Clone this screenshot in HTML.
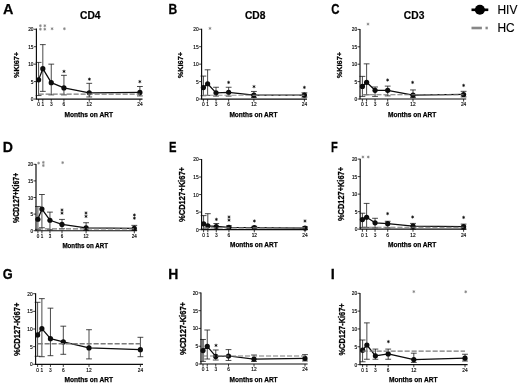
<!DOCTYPE html>
<html><head><meta charset="utf-8"><title>Figure</title>
<style>
html,body{margin:0;padding:0;background:#fff;}
body{width:520px;height:386px;overflow:hidden;}
svg{display:block;font-family:"Liberation Sans", sans-serif;}
</style></head>
<body>
<svg width="520" height="386" viewBox="0 0 520 386">
<defs><filter id="soft" x="0" y="0" width="520" height="386" filterUnits="userSpaceOnUse"><feGaussianBlur stdDeviation="0.38"/></filter></defs>
<rect width="520" height="386" fill="#fff"/>
<g filter="url(#soft)">
<rect width="520" height="386" fill="#fff"/>
<g id="pA">
<path d="M38.60 95.56V62.41M35.70 62.41H41.50M35.70 95.56H41.50" stroke="#1c1c1c" stroke-width="0.8" fill="none"/>
<path d="M42.82 91.37V44.61M39.92 44.61H45.72M39.92 91.37H45.72" stroke="#1c1c1c" stroke-width="0.8" fill="none"/>
<path d="M51.26 94.86V64.15M48.36 64.15H54.16M48.36 94.86H54.16" stroke="#1c1c1c" stroke-width="0.8" fill="none"/>
<path d="M63.93 94.86V75.32M61.03 75.32H66.83M61.03 94.86H66.83" stroke="#1c1c1c" stroke-width="0.8" fill="none"/>
<path d="M89.25 96.96V83.34M86.35 83.34H92.15M86.35 96.96H92.15" stroke="#1c1c1c" stroke-width="0.8" fill="none"/>
<path d="M139.90 95.91V86.49M137.00 86.49H142.80M137.00 95.91H142.80" stroke="#1c1c1c" stroke-width="0.8" fill="none"/>
<polyline points="38.60,79.85 42.82,68.69 51.26,82.65 63.93,87.88 89.25,92.77 139.90,92.42" fill="none" stroke="#0a0a0a" stroke-width="1.25" stroke-linejoin="round"/>
<circle cx="38.60" cy="79.85" r="2.6" fill="#0a0a0a"/>
<circle cx="42.82" cy="68.69" r="2.6" fill="#0a0a0a"/>
<circle cx="51.26" cy="82.65" r="2.6" fill="#0a0a0a"/>
<circle cx="63.93" cy="87.88" r="2.6" fill="#0a0a0a"/>
<circle cx="89.25" cy="92.77" r="2.6" fill="#0a0a0a"/>
<circle cx="139.90" cy="92.42" r="2.6" fill="#0a0a0a"/>
<line x1="38.60" y1="94.09" x2="139.90" y2="94.09" stroke="#7a7a7a" stroke-width="1.1" stroke-dasharray="5.1 1.9"/>
<path d="M36.40 28.45V99.05H142.50" stroke="#0a0a0a" stroke-width="1.15" fill="none" stroke-linejoin="miter"/>
<line x1="33.90" y1="99.05" x2="36.40" y2="99.05" stroke="#0a0a0a" stroke-width="0.8"/>
<text x="33.50" y="101.05" font-size="4.8" text-anchor="end" fill="#0a0a0a" stroke="#0a0a0a" stroke-width="0.15">0</text>
<line x1="33.90" y1="81.60" x2="36.40" y2="81.60" stroke="#0a0a0a" stroke-width="0.8"/>
<text x="33.50" y="83.60" font-size="4.8" text-anchor="end" fill="#0a0a0a" stroke="#0a0a0a" stroke-width="0.15">5</text>
<line x1="33.90" y1="64.15" x2="36.40" y2="64.15" stroke="#0a0a0a" stroke-width="0.8"/>
<text x="33.50" y="66.15" font-size="4.8" text-anchor="end" fill="#0a0a0a" stroke="#0a0a0a" stroke-width="0.15">10</text>
<line x1="33.90" y1="46.70" x2="36.40" y2="46.70" stroke="#0a0a0a" stroke-width="0.8"/>
<text x="33.50" y="48.70" font-size="4.8" text-anchor="end" fill="#0a0a0a" stroke="#0a0a0a" stroke-width="0.15">15</text>
<line x1="33.90" y1="29.25" x2="36.40" y2="29.25" stroke="#0a0a0a" stroke-width="0.8"/>
<text x="33.50" y="31.25" font-size="4.8" text-anchor="end" fill="#0a0a0a" stroke="#0a0a0a" stroke-width="0.15">20</text>
<line x1="38.60" y1="99.05" x2="38.60" y2="101.65" stroke="#0a0a0a" stroke-width="0.8"/>
<text x="38.60" y="106.40" font-size="4.8" text-anchor="middle" fill="#0a0a0a" stroke="#0a0a0a" stroke-width="0.15">0</text>
<line x1="42.82" y1="99.05" x2="42.82" y2="101.65" stroke="#0a0a0a" stroke-width="0.8"/>
<text x="42.82" y="106.40" font-size="4.8" text-anchor="middle" fill="#0a0a0a" stroke="#0a0a0a" stroke-width="0.15">1</text>
<line x1="51.26" y1="99.05" x2="51.26" y2="101.65" stroke="#0a0a0a" stroke-width="0.8"/>
<text x="51.26" y="106.40" font-size="4.8" text-anchor="middle" fill="#0a0a0a" stroke="#0a0a0a" stroke-width="0.15">3</text>
<line x1="63.93" y1="99.05" x2="63.93" y2="101.65" stroke="#0a0a0a" stroke-width="0.8"/>
<text x="63.93" y="106.40" font-size="4.8" text-anchor="middle" fill="#0a0a0a" stroke="#0a0a0a" stroke-width="0.15">6</text>
<line x1="89.25" y1="99.05" x2="89.25" y2="101.65" stroke="#0a0a0a" stroke-width="0.8"/>
<text x="89.25" y="106.40" font-size="4.8" text-anchor="middle" fill="#0a0a0a" stroke="#0a0a0a" stroke-width="0.15">12</text>
<line x1="139.90" y1="99.05" x2="139.90" y2="101.65" stroke="#0a0a0a" stroke-width="0.8"/>
<text x="139.90" y="106.40" font-size="4.8" text-anchor="middle" fill="#0a0a0a" stroke="#0a0a0a" stroke-width="0.15">24</text>
<g stroke="#111" stroke-width="0.60" stroke-linecap="round" fill="#111"><circle cx="64.00" cy="71.40" r="0.85" stroke="none"/><line x1="64.00" y1="70.10" x2="64.00" y2="72.70"/><line x1="62.87" y1="70.75" x2="65.13" y2="72.05"/><line x1="62.87" y1="72.05" x2="65.13" y2="70.75"/></g>
<g stroke="#111" stroke-width="0.60" stroke-linecap="round" fill="#111"><circle cx="89.40" cy="79.20" r="0.85" stroke="none"/><line x1="89.40" y1="77.90" x2="89.40" y2="80.50"/><line x1="88.27" y1="78.55" x2="90.53" y2="79.85"/><line x1="88.27" y1="79.85" x2="90.53" y2="78.55"/></g>
<g stroke="#111" stroke-width="0.60" stroke-linecap="round" fill="#111"><circle cx="139.80" cy="81.60" r="0.85" stroke="none"/><line x1="139.80" y1="80.30" x2="139.80" y2="82.90"/><line x1="138.67" y1="80.95" x2="140.93" y2="82.25"/><line x1="138.67" y1="82.25" x2="140.93" y2="80.95"/></g>
<g stroke="#888888" stroke-width="0.55" stroke-linecap="round" fill="#888888"><circle cx="40.40" cy="25.70" r="0.97" stroke="none"/><line x1="40.40" y1="24.50" x2="40.40" y2="26.90"/><line x1="39.36" y1="25.10" x2="41.44" y2="26.30"/><line x1="39.36" y1="26.30" x2="41.44" y2="25.10"/></g>
<g stroke="#888888" stroke-width="0.55" stroke-linecap="round" fill="#888888"><circle cx="44.80" cy="25.70" r="0.97" stroke="none"/><line x1="44.80" y1="24.50" x2="44.80" y2="26.90"/><line x1="43.76" y1="25.10" x2="45.84" y2="26.30"/><line x1="43.76" y1="26.30" x2="45.84" y2="25.10"/></g>
<g stroke="#888888" stroke-width="0.55" stroke-linecap="round" fill="#888888"><circle cx="40.40" cy="29.20" r="0.97" stroke="none"/><line x1="40.40" y1="28.00" x2="40.40" y2="30.40"/><line x1="39.36" y1="28.60" x2="41.44" y2="29.80"/><line x1="39.36" y1="29.80" x2="41.44" y2="28.60"/></g>
<g stroke="#888888" stroke-width="0.55" stroke-linecap="round" fill="#888888"><circle cx="44.80" cy="29.20" r="0.97" stroke="none"/><line x1="44.80" y1="28.00" x2="44.80" y2="30.40"/><line x1="43.76" y1="28.60" x2="45.84" y2="29.80"/><line x1="43.76" y1="29.80" x2="45.84" y2="28.60"/></g>
<g stroke="#888888" stroke-width="0.55" stroke-linecap="round" fill="#888888"><circle cx="52.10" cy="28.70" r="0.97" stroke="none"/><line x1="52.10" y1="27.50" x2="52.10" y2="29.90"/><line x1="51.06" y1="28.10" x2="53.14" y2="29.30"/><line x1="51.06" y1="29.30" x2="53.14" y2="28.10"/></g>
<g stroke="#888888" stroke-width="0.55" stroke-linecap="round" fill="#888888"><circle cx="64.40" cy="28.70" r="0.97" stroke="none"/><line x1="64.40" y1="27.50" x2="64.40" y2="29.90"/><line x1="63.36" y1="28.10" x2="65.44" y2="29.30"/><line x1="63.36" y1="29.30" x2="65.44" y2="28.10"/></g>
<text transform="translate(3.00,14.10) scale(1.0,1.0)" font-size="14.4" font-weight="bold" fill="#000" stroke="#000" stroke-width="0.25">A</text>
<text x="90.30" y="19.0" font-size="10.1" font-weight="bold" text-anchor="middle" textLength="20.5" lengthAdjust="spacingAndGlyphs" fill="#000" stroke="#000" stroke-width="0.2">CD4</text>
<text transform="translate(18.70,65.00) rotate(-90)" font-size="7.8" font-weight="bold" text-anchor="middle" textLength="26.2" lengthAdjust="spacingAndGlyphs" fill="#000" stroke="#000" stroke-width="0.28">%Ki67+</text>
<text x="88.70" y="116.70" font-size="6.9" font-weight="bold" text-anchor="middle" textLength="48.6" lengthAdjust="spacingAndGlyphs" fill="#000" stroke="#000" stroke-width="0.25">Months on ART</text>
</g>
<g id="pB">
<path d="M203.40 95.73V76.09M200.50 76.09H206.30M200.50 95.73H206.30" stroke="#1c1c1c" stroke-width="0.8" fill="none"/>
<path d="M207.61 95.39V69.80M204.71 69.80H210.51M204.71 95.39H210.51" stroke="#1c1c1c" stroke-width="0.8" fill="none"/>
<path d="M216.03 96.08V87.25M213.12 87.25H218.93M213.12 96.08H218.93" stroke="#1c1c1c" stroke-width="0.8" fill="none"/>
<path d="M228.65 96.08V87.25M225.75 87.25H231.55M225.75 96.08H231.55" stroke="#1c1c1c" stroke-width="0.8" fill="none"/>
<path d="M253.90 97.48V91.44M251.00 91.44H256.80M251.00 97.48H256.80" stroke="#1c1c1c" stroke-width="0.8" fill="none"/>
<path d="M304.40 97.13V92.84M301.50 92.84H307.30M301.50 97.13H307.30" stroke="#1c1c1c" stroke-width="0.8" fill="none"/>
<polyline points="203.40,87.60 207.61,83.76 216.03,92.84 228.65,92.31 253.90,95.21 304.40,95.04" fill="none" stroke="#0a0a0a" stroke-width="1.25" stroke-linejoin="round"/>
<circle cx="203.40" cy="87.60" r="2.6" fill="#0a0a0a"/>
<circle cx="207.61" cy="83.76" r="2.6" fill="#0a0a0a"/>
<circle cx="216.03" cy="92.84" r="2.6" fill="#0a0a0a"/>
<circle cx="228.65" cy="92.31" r="2.6" fill="#0a0a0a"/>
<circle cx="253.90" cy="95.21" r="2.6" fill="#0a0a0a"/>
<circle cx="304.40" cy="95.04" r="2.6" fill="#0a0a0a"/>
<line x1="203.40" y1="95.21" x2="304.40" y2="95.21" stroke="#999" stroke-width="1.1" stroke-dasharray="5.1 1.9"/>
<path d="M201.60 28.85V99.05H307.00" stroke="#0a0a0a" stroke-width="1.15" fill="none" stroke-linejoin="miter"/>
<line x1="199.10" y1="99.05" x2="201.60" y2="99.05" stroke="#0a0a0a" stroke-width="0.8"/>
<text x="198.70" y="101.05" font-size="4.8" text-anchor="end" fill="#0a0a0a" stroke="#0a0a0a" stroke-width="0.15">0</text>
<line x1="199.10" y1="81.60" x2="201.60" y2="81.60" stroke="#0a0a0a" stroke-width="0.8"/>
<text x="198.70" y="83.60" font-size="4.8" text-anchor="end" fill="#0a0a0a" stroke="#0a0a0a" stroke-width="0.15">5</text>
<line x1="199.10" y1="64.15" x2="201.60" y2="64.15" stroke="#0a0a0a" stroke-width="0.8"/>
<text x="198.70" y="66.15" font-size="4.8" text-anchor="end" fill="#0a0a0a" stroke="#0a0a0a" stroke-width="0.15">10</text>
<line x1="199.10" y1="46.70" x2="201.60" y2="46.70" stroke="#0a0a0a" stroke-width="0.8"/>
<text x="198.70" y="48.70" font-size="4.8" text-anchor="end" fill="#0a0a0a" stroke="#0a0a0a" stroke-width="0.15">15</text>
<line x1="199.10" y1="29.25" x2="201.60" y2="29.25" stroke="#0a0a0a" stroke-width="0.8"/>
<text x="198.70" y="31.25" font-size="4.8" text-anchor="end" fill="#0a0a0a" stroke="#0a0a0a" stroke-width="0.15">20</text>
<line x1="203.40" y1="99.05" x2="203.40" y2="101.65" stroke="#0a0a0a" stroke-width="0.8"/>
<text x="203.40" y="106.40" font-size="4.8" text-anchor="middle" fill="#0a0a0a" stroke="#0a0a0a" stroke-width="0.15">0</text>
<line x1="207.61" y1="99.05" x2="207.61" y2="101.65" stroke="#0a0a0a" stroke-width="0.8"/>
<text x="207.61" y="106.40" font-size="4.8" text-anchor="middle" fill="#0a0a0a" stroke="#0a0a0a" stroke-width="0.15">1</text>
<line x1="216.03" y1="99.05" x2="216.03" y2="101.65" stroke="#0a0a0a" stroke-width="0.8"/>
<text x="216.03" y="106.40" font-size="4.8" text-anchor="middle" fill="#0a0a0a" stroke="#0a0a0a" stroke-width="0.15">3</text>
<line x1="228.65" y1="99.05" x2="228.65" y2="101.65" stroke="#0a0a0a" stroke-width="0.8"/>
<text x="228.65" y="106.40" font-size="4.8" text-anchor="middle" fill="#0a0a0a" stroke="#0a0a0a" stroke-width="0.15">6</text>
<line x1="253.90" y1="99.05" x2="253.90" y2="101.65" stroke="#0a0a0a" stroke-width="0.8"/>
<text x="253.90" y="106.40" font-size="4.8" text-anchor="middle" fill="#0a0a0a" stroke="#0a0a0a" stroke-width="0.15">12</text>
<line x1="304.40" y1="99.05" x2="304.40" y2="101.65" stroke="#0a0a0a" stroke-width="0.8"/>
<text x="304.40" y="106.40" font-size="4.8" text-anchor="middle" fill="#0a0a0a" stroke="#0a0a0a" stroke-width="0.15">24</text>
<g stroke="#111" stroke-width="0.60" stroke-linecap="round" fill="#111"><circle cx="228.60" cy="82.40" r="0.85" stroke="none"/><line x1="228.60" y1="81.10" x2="228.60" y2="83.70"/><line x1="227.47" y1="81.75" x2="229.73" y2="83.05"/><line x1="227.47" y1="83.05" x2="229.73" y2="81.75"/></g>
<g stroke="#111" stroke-width="0.60" stroke-linecap="round" fill="#111"><circle cx="254.00" cy="86.60" r="0.85" stroke="none"/><line x1="254.00" y1="85.30" x2="254.00" y2="87.90"/><line x1="252.87" y1="85.95" x2="255.13" y2="87.25"/><line x1="252.87" y1="87.25" x2="255.13" y2="85.95"/></g>
<g stroke="#111" stroke-width="0.60" stroke-linecap="round" fill="#111"><circle cx="304.40" cy="87.40" r="0.85" stroke="none"/><line x1="304.40" y1="86.10" x2="304.40" y2="88.70"/><line x1="303.27" y1="86.75" x2="305.53" y2="88.05"/><line x1="303.27" y1="88.05" x2="305.53" y2="86.75"/></g>
<g stroke="#888888" stroke-width="0.55" stroke-linecap="round" fill="#888888"><circle cx="210.00" cy="28.40" r="0.97" stroke="none"/><line x1="210.00" y1="27.20" x2="210.00" y2="29.60"/><line x1="208.96" y1="27.80" x2="211.04" y2="29.00"/><line x1="208.96" y1="29.00" x2="211.04" y2="27.80"/></g>
<text transform="translate(168.60,14.10) scale(0.84,1.0)" font-size="14.4" font-weight="bold" fill="#000" stroke="#000" stroke-width="0.25">B</text>
<text x="255.20" y="19.0" font-size="10.1" font-weight="bold" text-anchor="middle" textLength="20.5" lengthAdjust="spacingAndGlyphs" fill="#000" stroke="#000" stroke-width="0.2">CD8</text>
<text transform="translate(183.20,65.10) rotate(-90)" font-size="7.8" font-weight="bold" text-anchor="middle" textLength="26.2" lengthAdjust="spacingAndGlyphs" fill="#000" stroke="#000" stroke-width="0.28">%Ki67+</text>
<text x="253.40" y="116.60" font-size="6.9" font-weight="bold" text-anchor="middle" textLength="48.0" lengthAdjust="spacingAndGlyphs" fill="#000" stroke="#000" stroke-width="0.25">Months on ART</text>
</g>
<g id="pC">
<path d="M362.40 96.39V76.38M359.50 76.38H365.30M359.50 96.39H365.30" stroke="#1c1c1c" stroke-width="0.8" fill="none"/>
<path d="M366.62 94.82V63.85M363.72 63.85H369.52M363.72 94.82H369.52" stroke="#1c1c1c" stroke-width="0.8" fill="none"/>
<path d="M375.05 96.39V86.99M372.15 86.99H377.95M372.15 96.39H377.95" stroke="#1c1c1c" stroke-width="0.8" fill="none"/>
<path d="M387.70 95.87V86.12M384.80 86.12H390.60M384.80 95.87H390.60" stroke="#1c1c1c" stroke-width="0.8" fill="none"/>
<path d="M413.00 97.61V89.95M410.10 89.95H415.90M410.10 97.61H415.90" stroke="#1c1c1c" stroke-width="0.8" fill="none"/>
<path d="M463.60 96.91V91.34M460.70 91.34H466.50M460.70 96.91H466.50" stroke="#1c1c1c" stroke-width="0.8" fill="none"/>
<polyline points="362.40,86.47 366.62,82.30 375.05,90.30 387.70,90.30 413.00,95.17 463.60,94.48" fill="none" stroke="#0a0a0a" stroke-width="1.25" stroke-linejoin="round"/>
<circle cx="362.40" cy="86.47" r="2.6" fill="#0a0a0a"/>
<circle cx="366.62" cy="82.30" r="2.6" fill="#0a0a0a"/>
<circle cx="375.05" cy="90.30" r="2.6" fill="#0a0a0a"/>
<circle cx="387.70" cy="90.30" r="2.6" fill="#0a0a0a"/>
<circle cx="413.00" cy="95.17" r="2.6" fill="#0a0a0a"/>
<circle cx="463.60" cy="94.48" r="2.6" fill="#0a0a0a"/>
<line x1="362.40" y1="94.82" x2="463.60" y2="94.82" stroke="#7a7a7a" stroke-width="1.1" stroke-dasharray="5.1 1.9"/>
<path d="M360.00 29.00V99.00H466.20" stroke="#0a0a0a" stroke-width="1.15" fill="none" stroke-linejoin="miter"/>
<line x1="357.50" y1="99.00" x2="360.00" y2="99.00" stroke="#0a0a0a" stroke-width="0.8"/>
<text x="357.10" y="101.00" font-size="4.8" text-anchor="end" fill="#0a0a0a" stroke="#0a0a0a" stroke-width="0.15">0</text>
<line x1="357.50" y1="81.60" x2="360.00" y2="81.60" stroke="#0a0a0a" stroke-width="0.8"/>
<text x="357.10" y="83.60" font-size="4.8" text-anchor="end" fill="#0a0a0a" stroke="#0a0a0a" stroke-width="0.15">5</text>
<line x1="357.50" y1="64.20" x2="360.00" y2="64.20" stroke="#0a0a0a" stroke-width="0.8"/>
<text x="357.10" y="66.20" font-size="4.8" text-anchor="end" fill="#0a0a0a" stroke="#0a0a0a" stroke-width="0.15">10</text>
<line x1="357.50" y1="46.80" x2="360.00" y2="46.80" stroke="#0a0a0a" stroke-width="0.8"/>
<text x="357.10" y="48.80" font-size="4.8" text-anchor="end" fill="#0a0a0a" stroke="#0a0a0a" stroke-width="0.15">15</text>
<line x1="357.50" y1="29.40" x2="360.00" y2="29.40" stroke="#0a0a0a" stroke-width="0.8"/>
<text x="357.10" y="31.40" font-size="4.8" text-anchor="end" fill="#0a0a0a" stroke="#0a0a0a" stroke-width="0.15">20</text>
<line x1="362.40" y1="99.00" x2="362.40" y2="101.60" stroke="#0a0a0a" stroke-width="0.8"/>
<text x="362.40" y="106.35" font-size="4.8" text-anchor="middle" fill="#0a0a0a" stroke="#0a0a0a" stroke-width="0.15">0</text>
<line x1="366.62" y1="99.00" x2="366.62" y2="101.60" stroke="#0a0a0a" stroke-width="0.8"/>
<text x="366.62" y="106.35" font-size="4.8" text-anchor="middle" fill="#0a0a0a" stroke="#0a0a0a" stroke-width="0.15">1</text>
<line x1="375.05" y1="99.00" x2="375.05" y2="101.60" stroke="#0a0a0a" stroke-width="0.8"/>
<text x="375.05" y="106.35" font-size="4.8" text-anchor="middle" fill="#0a0a0a" stroke="#0a0a0a" stroke-width="0.15">3</text>
<line x1="387.70" y1="99.00" x2="387.70" y2="101.60" stroke="#0a0a0a" stroke-width="0.8"/>
<text x="387.70" y="106.35" font-size="4.8" text-anchor="middle" fill="#0a0a0a" stroke="#0a0a0a" stroke-width="0.15">6</text>
<line x1="413.00" y1="99.00" x2="413.00" y2="101.60" stroke="#0a0a0a" stroke-width="0.8"/>
<text x="413.00" y="106.35" font-size="4.8" text-anchor="middle" fill="#0a0a0a" stroke="#0a0a0a" stroke-width="0.15">12</text>
<line x1="463.60" y1="99.00" x2="463.60" y2="101.60" stroke="#0a0a0a" stroke-width="0.8"/>
<text x="463.60" y="106.35" font-size="4.8" text-anchor="middle" fill="#0a0a0a" stroke="#0a0a0a" stroke-width="0.15">24</text>
<g stroke="#111" stroke-width="0.60" stroke-linecap="round" fill="#111"><circle cx="387.60" cy="80.00" r="0.85" stroke="none"/><line x1="387.60" y1="78.70" x2="387.60" y2="81.30"/><line x1="386.47" y1="79.35" x2="388.73" y2="80.65"/><line x1="386.47" y1="80.65" x2="388.73" y2="79.35"/></g>
<g stroke="#111" stroke-width="0.60" stroke-linecap="round" fill="#111"><circle cx="412.60" cy="82.40" r="0.85" stroke="none"/><line x1="412.60" y1="81.10" x2="412.60" y2="83.70"/><line x1="411.47" y1="81.75" x2="413.73" y2="83.05"/><line x1="411.47" y1="83.05" x2="413.73" y2="81.75"/></g>
<g stroke="#111" stroke-width="0.60" stroke-linecap="round" fill="#111"><circle cx="463.60" cy="85.40" r="0.85" stroke="none"/><line x1="463.60" y1="84.10" x2="463.60" y2="86.70"/><line x1="462.47" y1="84.75" x2="464.73" y2="86.05"/><line x1="462.47" y1="86.05" x2="464.73" y2="84.75"/></g>
<g stroke="#888888" stroke-width="0.55" stroke-linecap="round" fill="#888888"><circle cx="368.00" cy="24.10" r="0.97" stroke="none"/><line x1="368.00" y1="22.90" x2="368.00" y2="25.30"/><line x1="366.96" y1="23.50" x2="369.04" y2="24.70"/><line x1="366.96" y1="24.70" x2="369.04" y2="23.50"/></g>
<text transform="translate(331.20,14.10) scale(0.79,1.06)" font-size="14.4" font-weight="bold" fill="#000" stroke="#000" stroke-width="0.25">C</text>
<text x="414.10" y="19.0" font-size="10.1" font-weight="bold" text-anchor="middle" textLength="20.5" lengthAdjust="spacingAndGlyphs" fill="#000" stroke="#000" stroke-width="0.2">CD3</text>
<text transform="translate(342.00,65.10) rotate(-90)" font-size="7.8" font-weight="bold" text-anchor="middle" textLength="26.2" lengthAdjust="spacingAndGlyphs" fill="#000" stroke="#000" stroke-width="0.28">%Ki67+</text>
<text x="412.20" y="116.60" font-size="6.9" font-weight="bold" text-anchor="middle" textLength="48.4" lengthAdjust="spacingAndGlyphs" fill="#000" stroke="#000" stroke-width="0.25">Months on ART</text>
</g>
<g id="pD">
<path d="M37.90 229.37V206.46M35.00 206.46H40.80M35.00 229.37H40.80" stroke="#1c1c1c" stroke-width="0.8" fill="none"/>
<path d="M41.92 227.71V194.51M39.02 194.51H44.82M39.02 227.71H44.82" stroke="#1c1c1c" stroke-width="0.8" fill="none"/>
<path d="M49.95 229.70V212.11M47.05 212.11H52.85M47.05 229.70H52.85" stroke="#1c1c1c" stroke-width="0.8" fill="none"/>
<path d="M62.00 228.71V219.41M59.10 219.41H64.90M59.10 228.71H64.90" stroke="#1c1c1c" stroke-width="0.8" fill="none"/>
<path d="M86.10 230.37V222.73M83.20 222.73H89.00M83.20 230.37H89.00" stroke="#1c1c1c" stroke-width="0.8" fill="none"/>
<path d="M134.30 230.37V225.39M131.40 225.39H137.20M131.40 230.37H137.20" stroke="#1c1c1c" stroke-width="0.8" fill="none"/>
<polyline points="37.90,219.25 41.92,209.12 49.95,220.24 62.00,224.39 86.10,227.88 134.30,228.38" fill="none" stroke="#0a0a0a" stroke-width="1.25" stroke-linejoin="round"/>
<circle cx="37.90" cy="219.25" r="2.6" fill="#0a0a0a"/>
<circle cx="41.92" cy="209.12" r="2.6" fill="#0a0a0a"/>
<circle cx="49.95" cy="220.24" r="2.6" fill="#0a0a0a"/>
<circle cx="62.00" cy="224.39" r="2.6" fill="#0a0a0a"/>
<circle cx="86.10" cy="227.88" r="2.6" fill="#0a0a0a"/>
<circle cx="134.30" cy="228.38" r="2.6" fill="#0a0a0a"/>
<line x1="37.90" y1="228.87" x2="134.30" y2="228.87" stroke="#7a7a7a" stroke-width="1.1" stroke-dasharray="5.1 1.9"/>
<path d="M36.00 163.90V230.70H136.90" stroke="#0a0a0a" stroke-width="1.15" fill="none" stroke-linejoin="miter"/>
<line x1="33.50" y1="230.70" x2="36.00" y2="230.70" stroke="#0a0a0a" stroke-width="0.8"/>
<text x="33.10" y="232.70" font-size="4.55" text-anchor="end" fill="#0a0a0a" stroke="#0a0a0a" stroke-width="0.15">0</text>
<line x1="33.50" y1="214.10" x2="36.00" y2="214.10" stroke="#0a0a0a" stroke-width="0.8"/>
<text x="33.10" y="216.10" font-size="4.55" text-anchor="end" fill="#0a0a0a" stroke="#0a0a0a" stroke-width="0.15">5</text>
<line x1="33.50" y1="197.50" x2="36.00" y2="197.50" stroke="#0a0a0a" stroke-width="0.8"/>
<text x="33.10" y="199.50" font-size="4.55" text-anchor="end" fill="#0a0a0a" stroke="#0a0a0a" stroke-width="0.15">10</text>
<line x1="33.50" y1="180.90" x2="36.00" y2="180.90" stroke="#0a0a0a" stroke-width="0.8"/>
<text x="33.10" y="182.90" font-size="4.55" text-anchor="end" fill="#0a0a0a" stroke="#0a0a0a" stroke-width="0.15">15</text>
<line x1="33.50" y1="164.30" x2="36.00" y2="164.30" stroke="#0a0a0a" stroke-width="0.8"/>
<text x="33.10" y="166.30" font-size="4.55" text-anchor="end" fill="#0a0a0a" stroke="#0a0a0a" stroke-width="0.15">20</text>
<line x1="37.90" y1="230.70" x2="37.90" y2="233.30" stroke="#0a0a0a" stroke-width="0.8"/>
<text x="37.90" y="237.60" font-size="4.55" text-anchor="middle" fill="#0a0a0a" stroke="#0a0a0a" stroke-width="0.15">0</text>
<line x1="41.92" y1="230.70" x2="41.92" y2="233.30" stroke="#0a0a0a" stroke-width="0.8"/>
<text x="41.92" y="237.60" font-size="4.55" text-anchor="middle" fill="#0a0a0a" stroke="#0a0a0a" stroke-width="0.15">1</text>
<line x1="49.95" y1="230.70" x2="49.95" y2="233.30" stroke="#0a0a0a" stroke-width="0.8"/>
<text x="49.95" y="237.60" font-size="4.55" text-anchor="middle" fill="#0a0a0a" stroke="#0a0a0a" stroke-width="0.15">3</text>
<line x1="62.00" y1="230.70" x2="62.00" y2="233.30" stroke="#0a0a0a" stroke-width="0.8"/>
<text x="62.00" y="237.60" font-size="4.55" text-anchor="middle" fill="#0a0a0a" stroke="#0a0a0a" stroke-width="0.15">6</text>
<line x1="86.10" y1="230.70" x2="86.10" y2="233.30" stroke="#0a0a0a" stroke-width="0.8"/>
<text x="86.10" y="237.60" font-size="4.55" text-anchor="middle" fill="#0a0a0a" stroke="#0a0a0a" stroke-width="0.15">12</text>
<line x1="134.30" y1="230.70" x2="134.30" y2="233.30" stroke="#0a0a0a" stroke-width="0.8"/>
<text x="134.30" y="237.60" font-size="4.55" text-anchor="middle" fill="#0a0a0a" stroke="#0a0a0a" stroke-width="0.15">24</text>
<g stroke="#111" stroke-width="0.60" stroke-linecap="round" fill="#111"><circle cx="62.00" cy="210.00" r="0.85" stroke="none"/><line x1="62.00" y1="208.70" x2="62.00" y2="211.30"/><line x1="60.87" y1="209.35" x2="63.13" y2="210.65"/><line x1="60.87" y1="210.65" x2="63.13" y2="209.35"/></g>
<g stroke="#111" stroke-width="0.60" stroke-linecap="round" fill="#111"><circle cx="62.00" cy="213.20" r="0.85" stroke="none"/><line x1="62.00" y1="211.90" x2="62.00" y2="214.50"/><line x1="60.87" y1="212.55" x2="63.13" y2="213.85"/><line x1="60.87" y1="213.85" x2="63.13" y2="212.55"/></g>
<g stroke="#111" stroke-width="0.60" stroke-linecap="round" fill="#111"><circle cx="86.00" cy="213.00" r="0.85" stroke="none"/><line x1="86.00" y1="211.70" x2="86.00" y2="214.30"/><line x1="84.87" y1="212.35" x2="87.13" y2="213.65"/><line x1="84.87" y1="213.65" x2="87.13" y2="212.35"/></g>
<g stroke="#111" stroke-width="0.60" stroke-linecap="round" fill="#111"><circle cx="86.00" cy="216.40" r="0.85" stroke="none"/><line x1="86.00" y1="215.10" x2="86.00" y2="217.70"/><line x1="84.87" y1="215.75" x2="87.13" y2="217.05"/><line x1="84.87" y1="217.05" x2="87.13" y2="215.75"/></g>
<g stroke="#111" stroke-width="0.60" stroke-linecap="round" fill="#111"><circle cx="134.40" cy="215.00" r="0.85" stroke="none"/><line x1="134.40" y1="213.70" x2="134.40" y2="216.30"/><line x1="133.27" y1="214.35" x2="135.53" y2="215.65"/><line x1="133.27" y1="215.65" x2="135.53" y2="214.35"/></g>
<g stroke="#111" stroke-width="0.60" stroke-linecap="round" fill="#111"><circle cx="134.40" cy="218.20" r="0.85" stroke="none"/><line x1="134.40" y1="216.90" x2="134.40" y2="219.50"/><line x1="133.27" y1="217.55" x2="135.53" y2="218.85"/><line x1="133.27" y1="218.85" x2="135.53" y2="217.55"/></g>
<g stroke="#888888" stroke-width="0.55" stroke-linecap="round" fill="#888888"><circle cx="38.60" cy="163.10" r="0.97" stroke="none"/><line x1="38.60" y1="161.90" x2="38.60" y2="164.30"/><line x1="37.56" y1="162.50" x2="39.64" y2="163.70"/><line x1="37.56" y1="163.70" x2="39.64" y2="162.50"/></g>
<g stroke="#888888" stroke-width="0.55" stroke-linecap="round" fill="#888888"><circle cx="43.35" cy="162.40" r="0.97" stroke="none"/><line x1="43.35" y1="161.20" x2="43.35" y2="163.60"/><line x1="42.31" y1="161.80" x2="44.39" y2="163.00"/><line x1="42.31" y1="163.00" x2="44.39" y2="161.80"/></g>
<g stroke="#888888" stroke-width="0.55" stroke-linecap="round" fill="#888888"><circle cx="43.35" cy="165.50" r="0.97" stroke="none"/><line x1="43.35" y1="164.30" x2="43.35" y2="166.70"/><line x1="42.31" y1="164.90" x2="44.39" y2="166.10"/><line x1="42.31" y1="166.10" x2="44.39" y2="164.90"/></g>
<g stroke="#888888" stroke-width="0.55" stroke-linecap="round" fill="#888888"><circle cx="62.65" cy="162.60" r="0.97" stroke="none"/><line x1="62.65" y1="161.40" x2="62.65" y2="163.80"/><line x1="61.61" y1="162.00" x2="63.69" y2="163.20"/><line x1="61.61" y1="163.20" x2="63.69" y2="162.00"/></g>
<text transform="translate(2.80,151.80) scale(0.98,1.02)" font-size="14.4" font-weight="bold" fill="#000" stroke="#000" stroke-width="0.25">D</text>
<text transform="translate(19.30,197.90) rotate(-90)" font-size="8.2" font-weight="bold" text-anchor="middle" textLength="50.2" lengthAdjust="spacingAndGlyphs" fill="#000" stroke="#000" stroke-width="0.28">%CD127+Ki67+</text>
<text x="85.20" y="247.60" font-size="6.9" font-weight="bold" text-anchor="middle" textLength="45.6" lengthAdjust="spacingAndGlyphs" fill="#000" stroke="#000" stroke-width="0.25">Months on ART</text>
</g>
<g id="pE">
<path d="M203.60 228.95V215.61M200.70 215.61H206.50M200.70 228.95H206.50" stroke="#1c1c1c" stroke-width="0.8" fill="none"/>
<path d="M207.82 229.30V213.68M204.92 213.68H210.72M204.92 229.30H210.72" stroke="#1c1c1c" stroke-width="0.8" fill="none"/>
<path d="M216.28 229.30V223.51M213.38 223.51H219.18M213.38 229.30H219.18" stroke="#1c1c1c" stroke-width="0.8" fill="none"/>
<path d="M228.95 229.30V225.79M226.05 225.79H231.85M226.05 229.30H231.85" stroke="#1c1c1c" stroke-width="0.8" fill="none"/>
<path d="M254.30 229.30V226.32M251.40 226.32H257.20M251.40 229.30H257.20" stroke="#1c1c1c" stroke-width="0.8" fill="none"/>
<path d="M305.00 229.30V226.84M302.10 226.84H307.90M302.10 229.30H307.90" stroke="#1c1c1c" stroke-width="0.8" fill="none"/>
<polyline points="203.60,223.86 207.82,225.79 216.28,226.49 228.95,227.37 254.30,227.54 305.00,228.07" fill="none" stroke="#0a0a0a" stroke-width="1.25" stroke-linejoin="round"/>
<circle cx="203.60" cy="223.86" r="2.6" fill="#0a0a0a"/>
<circle cx="207.82" cy="225.79" r="2.6" fill="#0a0a0a"/>
<circle cx="216.28" cy="226.49" r="2.6" fill="#0a0a0a"/>
<circle cx="228.95" cy="227.37" r="2.6" fill="#0a0a0a"/>
<circle cx="254.30" cy="227.54" r="2.6" fill="#0a0a0a"/>
<circle cx="305.00" cy="228.07" r="2.6" fill="#0a0a0a"/>
<line x1="203.60" y1="227.89" x2="305.00" y2="227.89" stroke="#7a7a7a" stroke-width="1.1" stroke-dasharray="5.1 1.9"/>
<path d="M201.60 159.05V229.65H307.60" stroke="#0a0a0a" stroke-width="1.15" fill="none" stroke-linejoin="miter"/>
<line x1="199.10" y1="229.65" x2="201.60" y2="229.65" stroke="#0a0a0a" stroke-width="0.8"/>
<text x="198.70" y="231.65" font-size="4.8" text-anchor="end" fill="#0a0a0a" stroke="#0a0a0a" stroke-width="0.15">0</text>
<line x1="199.10" y1="212.10" x2="201.60" y2="212.10" stroke="#0a0a0a" stroke-width="0.8"/>
<text x="198.70" y="214.10" font-size="4.8" text-anchor="end" fill="#0a0a0a" stroke="#0a0a0a" stroke-width="0.15">5</text>
<line x1="199.10" y1="194.55" x2="201.60" y2="194.55" stroke="#0a0a0a" stroke-width="0.8"/>
<text x="198.70" y="196.55" font-size="4.8" text-anchor="end" fill="#0a0a0a" stroke="#0a0a0a" stroke-width="0.15">10</text>
<line x1="199.10" y1="177.00" x2="201.60" y2="177.00" stroke="#0a0a0a" stroke-width="0.8"/>
<text x="198.70" y="179.00" font-size="4.8" text-anchor="end" fill="#0a0a0a" stroke="#0a0a0a" stroke-width="0.15">15</text>
<line x1="199.10" y1="159.45" x2="201.60" y2="159.45" stroke="#0a0a0a" stroke-width="0.8"/>
<text x="198.70" y="161.45" font-size="4.8" text-anchor="end" fill="#0a0a0a" stroke="#0a0a0a" stroke-width="0.15">20</text>
<line x1="203.60" y1="229.65" x2="203.60" y2="232.25" stroke="#0a0a0a" stroke-width="0.8"/>
<text x="203.60" y="237.00" font-size="4.8" text-anchor="middle" fill="#0a0a0a" stroke="#0a0a0a" stroke-width="0.15">0</text>
<line x1="207.82" y1="229.65" x2="207.82" y2="232.25" stroke="#0a0a0a" stroke-width="0.8"/>
<text x="207.82" y="237.00" font-size="4.8" text-anchor="middle" fill="#0a0a0a" stroke="#0a0a0a" stroke-width="0.15">1</text>
<line x1="216.28" y1="229.65" x2="216.28" y2="232.25" stroke="#0a0a0a" stroke-width="0.8"/>
<text x="216.28" y="237.00" font-size="4.8" text-anchor="middle" fill="#0a0a0a" stroke="#0a0a0a" stroke-width="0.15">3</text>
<line x1="228.95" y1="229.65" x2="228.95" y2="232.25" stroke="#0a0a0a" stroke-width="0.8"/>
<text x="228.95" y="237.00" font-size="4.8" text-anchor="middle" fill="#0a0a0a" stroke="#0a0a0a" stroke-width="0.15">6</text>
<line x1="254.30" y1="229.65" x2="254.30" y2="232.25" stroke="#0a0a0a" stroke-width="0.8"/>
<text x="254.30" y="237.00" font-size="4.8" text-anchor="middle" fill="#0a0a0a" stroke="#0a0a0a" stroke-width="0.15">12</text>
<line x1="305.00" y1="229.65" x2="305.00" y2="232.25" stroke="#0a0a0a" stroke-width="0.8"/>
<text x="305.00" y="237.00" font-size="4.8" text-anchor="middle" fill="#0a0a0a" stroke="#0a0a0a" stroke-width="0.15">24</text>
<g stroke="#111" stroke-width="0.60" stroke-linecap="round" fill="#111"><circle cx="216.40" cy="219.40" r="0.85" stroke="none"/><line x1="216.40" y1="218.10" x2="216.40" y2="220.70"/><line x1="215.27" y1="218.75" x2="217.53" y2="220.05"/><line x1="215.27" y1="220.05" x2="217.53" y2="218.75"/></g>
<g stroke="#111" stroke-width="0.60" stroke-linecap="round" fill="#111"><circle cx="229.00" cy="217.00" r="0.85" stroke="none"/><line x1="229.00" y1="215.70" x2="229.00" y2="218.30"/><line x1="227.87" y1="216.35" x2="230.13" y2="217.65"/><line x1="227.87" y1="217.65" x2="230.13" y2="216.35"/></g>
<g stroke="#111" stroke-width="0.60" stroke-linecap="round" fill="#111"><circle cx="229.00" cy="220.20" r="0.85" stroke="none"/><line x1="229.00" y1="218.90" x2="229.00" y2="221.50"/><line x1="227.87" y1="219.55" x2="230.13" y2="220.85"/><line x1="227.87" y1="220.85" x2="230.13" y2="219.55"/></g>
<g stroke="#111" stroke-width="0.60" stroke-linecap="round" fill="#111"><circle cx="254.40" cy="221.00" r="0.85" stroke="none"/><line x1="254.40" y1="219.70" x2="254.40" y2="222.30"/><line x1="253.27" y1="220.35" x2="255.53" y2="221.65"/><line x1="253.27" y1="221.65" x2="255.53" y2="220.35"/></g>
<g stroke="#111" stroke-width="0.60" stroke-linecap="round" fill="#111"><circle cx="305.00" cy="221.00" r="0.85" stroke="none"/><line x1="305.00" y1="219.70" x2="305.00" y2="222.30"/><line x1="303.87" y1="220.35" x2="306.13" y2="221.65"/><line x1="303.87" y1="221.65" x2="306.13" y2="220.35"/></g>
<text transform="translate(169.00,151.70) scale(0.78,1.05)" font-size="14.4" font-weight="bold" fill="#000" stroke="#000" stroke-width="0.25">E</text>
<text transform="translate(185.20,194.50) rotate(-90)" font-size="8.2" font-weight="bold" text-anchor="middle" textLength="55.0" lengthAdjust="spacingAndGlyphs" fill="#000" stroke="#000" stroke-width="0.28">%CD127+Ki67+</text>
<text x="253.80" y="247.00" font-size="6.9" font-weight="bold" text-anchor="middle" textLength="47.6" lengthAdjust="spacingAndGlyphs" fill="#000" stroke="#000" stroke-width="0.25">Months on ART</text>
</g>
<g id="pF">
<path d="M362.40 227.40V213.21M359.50 213.21H365.30M359.50 227.40H365.30" stroke="#1c1c1c" stroke-width="0.8" fill="none"/>
<path d="M366.62 227.40V203.41M363.72 203.41H369.52M363.72 227.40H369.52" stroke="#1c1c1c" stroke-width="0.8" fill="none"/>
<path d="M375.05 227.75V218.29M372.15 218.29H377.95M372.15 227.75H377.95" stroke="#1c1c1c" stroke-width="0.8" fill="none"/>
<path d="M387.70 227.75V221.27M384.80 221.27H390.60M384.80 227.75H390.60" stroke="#1c1c1c" stroke-width="0.8" fill="none"/>
<path d="M413.00 229.15V223.41M410.10 223.41H415.90M410.10 229.15H415.90" stroke="#1c1c1c" stroke-width="0.8" fill="none"/>
<path d="M463.60 229.15V224.11M460.70 224.11H466.50M460.70 229.15H466.50" stroke="#1c1c1c" stroke-width="0.8" fill="none"/>
<polyline points="362.40,219.62 366.62,217.24 375.05,222.85 387.70,223.72 413.00,226.17 463.60,226.63" fill="none" stroke="#0a0a0a" stroke-width="1.25" stroke-linejoin="round"/>
<circle cx="362.40" cy="219.62" r="2.6" fill="#0a0a0a"/>
<circle cx="366.62" cy="217.24" r="2.6" fill="#0a0a0a"/>
<circle cx="375.05" cy="222.85" r="2.6" fill="#0a0a0a"/>
<circle cx="387.70" cy="223.72" r="2.6" fill="#0a0a0a"/>
<circle cx="413.00" cy="226.17" r="2.6" fill="#0a0a0a"/>
<circle cx="463.60" cy="226.63" r="2.6" fill="#0a0a0a"/>
<line x1="362.40" y1="227.22" x2="463.60" y2="227.22" stroke="#7a7a7a" stroke-width="1.1" stroke-dasharray="5.1 1.9"/>
<path d="M360.20 158.70V229.15H466.20" stroke="#0a0a0a" stroke-width="1.15" fill="none" stroke-linejoin="miter"/>
<line x1="357.70" y1="229.15" x2="360.20" y2="229.15" stroke="#0a0a0a" stroke-width="0.8"/>
<text x="357.30" y="231.15" font-size="4.8" text-anchor="end" fill="#0a0a0a" stroke="#0a0a0a" stroke-width="0.15">0</text>
<line x1="357.70" y1="211.64" x2="360.20" y2="211.64" stroke="#0a0a0a" stroke-width="0.8"/>
<text x="357.30" y="213.64" font-size="4.8" text-anchor="end" fill="#0a0a0a" stroke="#0a0a0a" stroke-width="0.15">5</text>
<line x1="357.70" y1="194.12" x2="360.20" y2="194.12" stroke="#0a0a0a" stroke-width="0.8"/>
<text x="357.30" y="196.12" font-size="4.8" text-anchor="end" fill="#0a0a0a" stroke="#0a0a0a" stroke-width="0.15">10</text>
<line x1="357.70" y1="176.61" x2="360.20" y2="176.61" stroke="#0a0a0a" stroke-width="0.8"/>
<text x="357.30" y="178.61" font-size="4.8" text-anchor="end" fill="#0a0a0a" stroke="#0a0a0a" stroke-width="0.15">15</text>
<line x1="357.70" y1="159.10" x2="360.20" y2="159.10" stroke="#0a0a0a" stroke-width="0.8"/>
<text x="357.30" y="161.10" font-size="4.8" text-anchor="end" fill="#0a0a0a" stroke="#0a0a0a" stroke-width="0.15">20</text>
<line x1="362.40" y1="229.15" x2="362.40" y2="231.75" stroke="#0a0a0a" stroke-width="0.8"/>
<text x="362.40" y="236.50" font-size="4.8" text-anchor="middle" fill="#0a0a0a" stroke="#0a0a0a" stroke-width="0.15">0</text>
<line x1="366.62" y1="229.15" x2="366.62" y2="231.75" stroke="#0a0a0a" stroke-width="0.8"/>
<text x="366.62" y="236.50" font-size="4.8" text-anchor="middle" fill="#0a0a0a" stroke="#0a0a0a" stroke-width="0.15">1</text>
<line x1="375.05" y1="229.15" x2="375.05" y2="231.75" stroke="#0a0a0a" stroke-width="0.8"/>
<text x="375.05" y="236.50" font-size="4.8" text-anchor="middle" fill="#0a0a0a" stroke="#0a0a0a" stroke-width="0.15">3</text>
<line x1="387.70" y1="229.15" x2="387.70" y2="231.75" stroke="#0a0a0a" stroke-width="0.8"/>
<text x="387.70" y="236.50" font-size="4.8" text-anchor="middle" fill="#0a0a0a" stroke="#0a0a0a" stroke-width="0.15">6</text>
<line x1="413.00" y1="229.15" x2="413.00" y2="231.75" stroke="#0a0a0a" stroke-width="0.8"/>
<text x="413.00" y="236.50" font-size="4.8" text-anchor="middle" fill="#0a0a0a" stroke="#0a0a0a" stroke-width="0.15">12</text>
<line x1="463.60" y1="229.15" x2="463.60" y2="231.75" stroke="#0a0a0a" stroke-width="0.8"/>
<text x="463.60" y="236.50" font-size="4.8" text-anchor="middle" fill="#0a0a0a" stroke="#0a0a0a" stroke-width="0.15">24</text>
<g stroke="#111" stroke-width="0.60" stroke-linecap="round" fill="#111"><circle cx="387.60" cy="213.60" r="0.85" stroke="none"/><line x1="387.60" y1="212.30" x2="387.60" y2="214.90"/><line x1="386.47" y1="212.95" x2="388.73" y2="214.25"/><line x1="386.47" y1="214.25" x2="388.73" y2="212.95"/></g>
<g stroke="#111" stroke-width="0.60" stroke-linecap="round" fill="#111"><circle cx="412.60" cy="217.00" r="0.85" stroke="none"/><line x1="412.60" y1="215.70" x2="412.60" y2="218.30"/><line x1="411.47" y1="216.35" x2="413.73" y2="217.65"/><line x1="411.47" y1="217.65" x2="413.73" y2="216.35"/></g>
<g stroke="#111" stroke-width="0.60" stroke-linecap="round" fill="#111"><circle cx="463.60" cy="217.40" r="0.85" stroke="none"/><line x1="463.60" y1="216.10" x2="463.60" y2="218.70"/><line x1="462.47" y1="216.75" x2="464.73" y2="218.05"/><line x1="462.47" y1="218.05" x2="464.73" y2="216.75"/></g>
<g stroke="#888888" stroke-width="0.55" stroke-linecap="round" fill="#888888"><circle cx="362.90" cy="157.00" r="0.97" stroke="none"/><line x1="362.90" y1="155.80" x2="362.90" y2="158.20"/><line x1="361.86" y1="156.40" x2="363.94" y2="157.60"/><line x1="361.86" y1="157.60" x2="363.94" y2="156.40"/></g>
<g stroke="#888888" stroke-width="0.55" stroke-linecap="round" fill="#888888"><circle cx="368.25" cy="157.00" r="0.97" stroke="none"/><line x1="368.25" y1="155.80" x2="368.25" y2="158.20"/><line x1="367.21" y1="156.40" x2="369.29" y2="157.60"/><line x1="367.21" y1="157.60" x2="369.29" y2="156.40"/></g>
<text transform="translate(331.00,151.70) scale(0.77,1.05)" font-size="14.4" font-weight="bold" fill="#000" stroke="#000" stroke-width="0.25">F</text>
<text transform="translate(343.80,194.00) rotate(-90)" font-size="8.2" font-weight="bold" text-anchor="middle" textLength="54.0" lengthAdjust="spacingAndGlyphs" fill="#000" stroke="#000" stroke-width="0.28">%CD127+Ki67+</text>
<text x="412.20" y="247.00" font-size="6.9" font-weight="bold" text-anchor="middle" textLength="48.4" lengthAdjust="spacingAndGlyphs" fill="#000" stroke="#000" stroke-width="0.25">Months on ART</text>
</g>
<g id="pG">
<path d="M37.60 356.29V302.31M34.70 302.31H40.50M34.70 356.29H40.50" stroke="#1c1c1c" stroke-width="0.8" fill="none"/>
<path d="M41.88 356.71V298.64M38.98 298.64H44.78M38.98 356.71H44.78" stroke="#1c1c1c" stroke-width="0.8" fill="none"/>
<path d="M50.45 355.69V308.17M47.55 308.17H53.35M47.55 355.69H53.35" stroke="#1c1c1c" stroke-width="0.8" fill="none"/>
<path d="M63.30 354.31V326.18M60.40 326.18H66.20M60.40 354.31H66.20" stroke="#1c1c1c" stroke-width="0.8" fill="none"/>
<path d="M89.00 358.90V329.71M86.10 329.71H91.90M86.10 358.90H91.90" stroke="#1c1c1c" stroke-width="0.8" fill="none"/>
<path d="M140.40 356.71V337.30M137.50 337.30H143.30M137.50 356.71H143.30" stroke="#1c1c1c" stroke-width="0.8" fill="none"/>
<polyline points="37.60,334.90 41.88,328.65 50.45,338.71 63.30,341.88 89.00,347.89 140.40,349.69" fill="none" stroke="#0a0a0a" stroke-width="1.25" stroke-linejoin="round"/>
<circle cx="37.60" cy="334.90" r="2.6" fill="#0a0a0a"/>
<circle cx="41.88" cy="328.65" r="2.6" fill="#0a0a0a"/>
<circle cx="50.45" cy="338.71" r="2.6" fill="#0a0a0a"/>
<circle cx="63.30" cy="341.88" r="2.6" fill="#0a0a0a"/>
<circle cx="89.00" cy="347.89" r="2.6" fill="#0a0a0a"/>
<circle cx="140.40" cy="349.69" r="2.6" fill="#0a0a0a"/>
<line x1="37.60" y1="343.83" x2="140.40" y2="343.83" stroke="#7a7a7a" stroke-width="1.45" stroke-dasharray="5.1 1.9"/>
<path d="M35.60 293.30V364.30H143.00" stroke="#0a0a0a" stroke-width="1.15" fill="none" stroke-linejoin="miter"/>
<line x1="33.10" y1="364.30" x2="35.60" y2="364.30" stroke="#0a0a0a" stroke-width="0.8"/>
<text x="32.70" y="366.30" font-size="4.8" text-anchor="end" fill="#0a0a0a" stroke="#0a0a0a" stroke-width="0.15">0</text>
<line x1="33.10" y1="346.65" x2="35.60" y2="346.65" stroke="#0a0a0a" stroke-width="0.8"/>
<text x="32.70" y="348.65" font-size="4.8" text-anchor="end" fill="#0a0a0a" stroke="#0a0a0a" stroke-width="0.15">5</text>
<line x1="33.10" y1="329.00" x2="35.60" y2="329.00" stroke="#0a0a0a" stroke-width="0.8"/>
<text x="32.70" y="331.00" font-size="4.8" text-anchor="end" fill="#0a0a0a" stroke="#0a0a0a" stroke-width="0.15">10</text>
<line x1="33.10" y1="311.35" x2="35.60" y2="311.35" stroke="#0a0a0a" stroke-width="0.8"/>
<text x="32.70" y="313.35" font-size="4.8" text-anchor="end" fill="#0a0a0a" stroke="#0a0a0a" stroke-width="0.15">15</text>
<line x1="33.10" y1="293.70" x2="35.60" y2="293.70" stroke="#0a0a0a" stroke-width="0.8"/>
<text x="32.70" y="295.70" font-size="4.8" text-anchor="end" fill="#0a0a0a" stroke="#0a0a0a" stroke-width="0.15">20</text>
<line x1="37.60" y1="364.30" x2="37.60" y2="366.90" stroke="#0a0a0a" stroke-width="0.8"/>
<text x="37.60" y="371.65" font-size="4.8" text-anchor="middle" fill="#0a0a0a" stroke="#0a0a0a" stroke-width="0.15">0</text>
<line x1="41.88" y1="364.30" x2="41.88" y2="366.90" stroke="#0a0a0a" stroke-width="0.8"/>
<text x="41.88" y="371.65" font-size="4.8" text-anchor="middle" fill="#0a0a0a" stroke="#0a0a0a" stroke-width="0.15">1</text>
<line x1="50.45" y1="364.30" x2="50.45" y2="366.90" stroke="#0a0a0a" stroke-width="0.8"/>
<text x="50.45" y="371.65" font-size="4.8" text-anchor="middle" fill="#0a0a0a" stroke="#0a0a0a" stroke-width="0.15">3</text>
<line x1="63.30" y1="364.30" x2="63.30" y2="366.90" stroke="#0a0a0a" stroke-width="0.8"/>
<text x="63.30" y="371.65" font-size="4.8" text-anchor="middle" fill="#0a0a0a" stroke="#0a0a0a" stroke-width="0.15">6</text>
<line x1="89.00" y1="364.30" x2="89.00" y2="366.90" stroke="#0a0a0a" stroke-width="0.8"/>
<text x="89.00" y="371.65" font-size="4.8" text-anchor="middle" fill="#0a0a0a" stroke="#0a0a0a" stroke-width="0.15">12</text>
<line x1="140.40" y1="364.30" x2="140.40" y2="366.90" stroke="#0a0a0a" stroke-width="0.8"/>
<text x="140.40" y="371.65" font-size="4.8" text-anchor="middle" fill="#0a0a0a" stroke="#0a0a0a" stroke-width="0.15">24</text>
<text transform="translate(2.80,278.50) scale(0.89,1.04)" font-size="14.4" font-weight="bold" fill="#000" stroke="#000" stroke-width="0.25">G</text>
<text transform="translate(20.40,329.30) rotate(-90)" font-size="8.2" font-weight="bold" text-anchor="middle" textLength="53.2" lengthAdjust="spacingAndGlyphs" fill="#000" stroke="#000" stroke-width="0.28">%CD127-Ki67+</text>
<text x="88.70" y="382.40" font-size="6.9" font-weight="bold" text-anchor="middle" textLength="48.6" lengthAdjust="spacingAndGlyphs" fill="#000" stroke="#000" stroke-width="0.25">Months on ART</text>
</g>
<g id="pH">
<rect x="201.40" y="339.47" width="2.8" height="21.93" fill="#bdbdbd"/>
<path d="M203.00 361.40V339.47M200.10 339.47H205.90M200.10 361.40H205.90" stroke="#1c1c1c" stroke-width="0.8" fill="none"/>
<path d="M207.25 359.02V330.01M204.35 330.01H210.15M204.35 359.02H210.15" stroke="#1c1c1c" stroke-width="0.8" fill="none"/>
<path d="M215.75 360.02V349.99M212.85 349.99H218.65M212.85 360.02H218.65" stroke="#1c1c1c" stroke-width="0.8" fill="none"/>
<path d="M228.50 360.44V349.60M225.60 349.60H231.40M225.60 360.44H231.40" stroke="#1c1c1c" stroke-width="0.8" fill="none"/>
<path d="M254.00 361.51V355.01M251.10 355.01H256.90M251.10 361.51H256.90" stroke="#1c1c1c" stroke-width="0.8" fill="none"/>
<path d="M305.00 360.98V354.61M302.10 354.61H307.90M302.10 360.98H307.90" stroke="#1c1c1c" stroke-width="0.8" fill="none"/>
<polyline points="203.00,350.60 207.25,346.40 215.75,356.39 228.50,356.00 254.00,359.02 305.00,358.42" fill="none" stroke="#0a0a0a" stroke-width="1.25" stroke-linejoin="round"/>
<circle cx="203.00" cy="350.60" r="2.6" fill="#0a0a0a"/>
<circle cx="207.25" cy="346.40" r="2.6" fill="#0a0a0a"/>
<circle cx="215.75" cy="356.39" r="2.6" fill="#0a0a0a"/>
<circle cx="228.50" cy="356.00" r="2.6" fill="#0a0a0a"/>
<circle cx="254.00" cy="359.02" r="2.6" fill="#0a0a0a"/>
<circle cx="305.00" cy="358.42" r="2.6" fill="#0a0a0a"/>
<line x1="203.00" y1="356.00" x2="305.00" y2="356.00" stroke="#7a7a7a" stroke-width="1.1" stroke-dasharray="5.1 1.9"/>
<path d="M200.95 292.50V364.00H307.60" stroke="#0a0a0a" stroke-width="1.15" fill="none" stroke-linejoin="miter"/>
<line x1="198.45" y1="364.00" x2="200.95" y2="364.00" stroke="#0a0a0a" stroke-width="0.8"/>
<text x="198.05" y="366.00" font-size="4.8" text-anchor="end" fill="#0a0a0a" stroke="#0a0a0a" stroke-width="0.15">0</text>
<line x1="198.45" y1="346.23" x2="200.95" y2="346.23" stroke="#0a0a0a" stroke-width="0.8"/>
<text x="198.05" y="348.23" font-size="4.8" text-anchor="end" fill="#0a0a0a" stroke="#0a0a0a" stroke-width="0.15">5</text>
<line x1="198.45" y1="328.45" x2="200.95" y2="328.45" stroke="#0a0a0a" stroke-width="0.8"/>
<text x="198.05" y="330.45" font-size="4.8" text-anchor="end" fill="#0a0a0a" stroke="#0a0a0a" stroke-width="0.15">10</text>
<line x1="198.45" y1="310.68" x2="200.95" y2="310.68" stroke="#0a0a0a" stroke-width="0.8"/>
<text x="198.05" y="312.68" font-size="4.8" text-anchor="end" fill="#0a0a0a" stroke="#0a0a0a" stroke-width="0.15">15</text>
<line x1="198.45" y1="292.90" x2="200.95" y2="292.90" stroke="#0a0a0a" stroke-width="0.8"/>
<text x="198.05" y="294.90" font-size="4.8" text-anchor="end" fill="#0a0a0a" stroke="#0a0a0a" stroke-width="0.15">20</text>
<line x1="203.00" y1="364.00" x2="203.00" y2="366.60" stroke="#0a0a0a" stroke-width="0.8"/>
<text x="203.00" y="371.35" font-size="4.8" text-anchor="middle" fill="#0a0a0a" stroke="#0a0a0a" stroke-width="0.15">0</text>
<line x1="207.25" y1="364.00" x2="207.25" y2="366.60" stroke="#0a0a0a" stroke-width="0.8"/>
<text x="207.25" y="371.35" font-size="4.8" text-anchor="middle" fill="#0a0a0a" stroke="#0a0a0a" stroke-width="0.15">1</text>
<line x1="215.75" y1="364.00" x2="215.75" y2="366.60" stroke="#0a0a0a" stroke-width="0.8"/>
<text x="215.75" y="371.35" font-size="4.8" text-anchor="middle" fill="#0a0a0a" stroke="#0a0a0a" stroke-width="0.15">3</text>
<line x1="228.50" y1="364.00" x2="228.50" y2="366.60" stroke="#0a0a0a" stroke-width="0.8"/>
<text x="228.50" y="371.35" font-size="4.8" text-anchor="middle" fill="#0a0a0a" stroke="#0a0a0a" stroke-width="0.15">6</text>
<line x1="254.00" y1="364.00" x2="254.00" y2="366.60" stroke="#0a0a0a" stroke-width="0.8"/>
<text x="254.00" y="371.35" font-size="4.8" text-anchor="middle" fill="#0a0a0a" stroke="#0a0a0a" stroke-width="0.15">12</text>
<line x1="305.00" y1="364.00" x2="305.00" y2="366.60" stroke="#0a0a0a" stroke-width="0.8"/>
<text x="305.00" y="371.35" font-size="4.8" text-anchor="middle" fill="#0a0a0a" stroke="#0a0a0a" stroke-width="0.15">24</text>
<g stroke="#111" stroke-width="0.60" stroke-linecap="round" fill="#111"><circle cx="216.00" cy="345.40" r="0.85" stroke="none"/><line x1="216.00" y1="344.10" x2="216.00" y2="346.70"/><line x1="214.87" y1="344.75" x2="217.13" y2="346.05"/><line x1="214.87" y1="346.05" x2="217.13" y2="344.75"/></g>
<text transform="translate(168.20,278.80) scale(0.97,1.04)" font-size="14.4" font-weight="bold" fill="#000" stroke="#000" stroke-width="0.25">H</text>
<text transform="translate(186.20,328.50) rotate(-90)" font-size="8.2" font-weight="bold" text-anchor="middle" textLength="53.0" lengthAdjust="spacingAndGlyphs" fill="#000" stroke="#000" stroke-width="0.28">%CD127-Ki67+</text>
<text x="253.60" y="381.80" font-size="6.9" font-weight="bold" text-anchor="middle" textLength="48.0" lengthAdjust="spacingAndGlyphs" fill="#000" stroke="#000" stroke-width="0.25">Months on ART</text>
</g>
<g id="pI">
<path d="M362.60 361.75V340.00M359.70 340.00H365.50M359.70 361.75H365.50" stroke="#1c1c1c" stroke-width="0.8" fill="none"/>
<path d="M366.87 359.25V322.89M363.97 322.89H369.77M363.97 359.25H369.77" stroke="#1c1c1c" stroke-width="0.8" fill="none"/>
<path d="M375.40 359.25V349.09M372.50 349.09H378.30M372.50 359.25H378.30" stroke="#1c1c1c" stroke-width="0.8" fill="none"/>
<path d="M388.20 359.25V349.09M385.30 349.09H391.10M385.30 359.25H391.10" stroke="#1c1c1c" stroke-width="0.8" fill="none"/>
<path d="M413.80 362.46V353.19M410.90 353.19H416.70M410.90 362.46H416.70" stroke="#1c1c1c" stroke-width="0.8" fill="none"/>
<path d="M465.00 361.04V354.26M462.10 354.26H467.90M462.10 361.04H467.90" stroke="#1c1c1c" stroke-width="0.8" fill="none"/>
<polyline points="362.60,350.16 366.87,344.99 375.40,355.87 388.20,353.91 413.80,359.61 465.00,358.18" fill="none" stroke="#0a0a0a" stroke-width="1.25" stroke-linejoin="round"/>
<circle cx="362.60" cy="350.16" r="2.6" fill="#0a0a0a"/>
<circle cx="366.87" cy="344.99" r="2.6" fill="#0a0a0a"/>
<circle cx="375.40" cy="355.87" r="2.6" fill="#0a0a0a"/>
<circle cx="388.20" cy="353.91" r="2.6" fill="#0a0a0a"/>
<circle cx="413.80" cy="359.61" r="2.6" fill="#0a0a0a"/>
<circle cx="465.00" cy="358.18" r="2.6" fill="#0a0a0a"/>
<line x1="362.60" y1="351.23" x2="465.00" y2="351.23" stroke="#7a7a7a" stroke-width="1.25" stroke-dasharray="5.1 1.9"/>
<path d="M360.00 292.90V364.60H467.60" stroke="#0a0a0a" stroke-width="1.15" fill="none" stroke-linejoin="miter"/>
<line x1="357.50" y1="364.60" x2="360.00" y2="364.60" stroke="#0a0a0a" stroke-width="0.8"/>
<text x="357.10" y="366.60" font-size="4.8" text-anchor="end" fill="#0a0a0a" stroke="#0a0a0a" stroke-width="0.15">0</text>
<line x1="357.50" y1="346.78" x2="360.00" y2="346.78" stroke="#0a0a0a" stroke-width="0.8"/>
<text x="357.10" y="348.78" font-size="4.8" text-anchor="end" fill="#0a0a0a" stroke="#0a0a0a" stroke-width="0.15">5</text>
<line x1="357.50" y1="328.95" x2="360.00" y2="328.95" stroke="#0a0a0a" stroke-width="0.8"/>
<text x="357.10" y="330.95" font-size="4.8" text-anchor="end" fill="#0a0a0a" stroke="#0a0a0a" stroke-width="0.15">10</text>
<line x1="357.50" y1="311.12" x2="360.00" y2="311.12" stroke="#0a0a0a" stroke-width="0.8"/>
<text x="357.10" y="313.12" font-size="4.8" text-anchor="end" fill="#0a0a0a" stroke="#0a0a0a" stroke-width="0.15">15</text>
<line x1="357.50" y1="293.30" x2="360.00" y2="293.30" stroke="#0a0a0a" stroke-width="0.8"/>
<text x="357.10" y="295.30" font-size="4.8" text-anchor="end" fill="#0a0a0a" stroke="#0a0a0a" stroke-width="0.15">20</text>
<line x1="362.60" y1="364.60" x2="362.60" y2="367.20" stroke="#0a0a0a" stroke-width="0.8"/>
<text x="362.60" y="371.95" font-size="4.8" text-anchor="middle" fill="#0a0a0a" stroke="#0a0a0a" stroke-width="0.15">0</text>
<line x1="366.87" y1="364.60" x2="366.87" y2="367.20" stroke="#0a0a0a" stroke-width="0.8"/>
<text x="366.87" y="371.95" font-size="4.8" text-anchor="middle" fill="#0a0a0a" stroke="#0a0a0a" stroke-width="0.15">1</text>
<line x1="375.40" y1="364.60" x2="375.40" y2="367.20" stroke="#0a0a0a" stroke-width="0.8"/>
<text x="375.40" y="371.95" font-size="4.8" text-anchor="middle" fill="#0a0a0a" stroke="#0a0a0a" stroke-width="0.15">3</text>
<line x1="388.20" y1="364.60" x2="388.20" y2="367.20" stroke="#0a0a0a" stroke-width="0.8"/>
<text x="388.20" y="371.95" font-size="4.8" text-anchor="middle" fill="#0a0a0a" stroke="#0a0a0a" stroke-width="0.15">6</text>
<line x1="413.80" y1="364.60" x2="413.80" y2="367.20" stroke="#0a0a0a" stroke-width="0.8"/>
<text x="413.80" y="371.95" font-size="4.8" text-anchor="middle" fill="#0a0a0a" stroke="#0a0a0a" stroke-width="0.15">12</text>
<line x1="465.00" y1="364.60" x2="465.00" y2="367.20" stroke="#0a0a0a" stroke-width="0.8"/>
<text x="465.00" y="371.95" font-size="4.8" text-anchor="middle" fill="#0a0a0a" stroke="#0a0a0a" stroke-width="0.15">24</text>
<g stroke="#111" stroke-width="0.60" stroke-linecap="round" fill="#111"><circle cx="388.40" cy="341.60" r="0.85" stroke="none"/><line x1="388.40" y1="340.30" x2="388.40" y2="342.90"/><line x1="387.27" y1="340.95" x2="389.53" y2="342.25"/><line x1="387.27" y1="342.25" x2="389.53" y2="340.95"/></g>
<g stroke="#888888" stroke-width="0.55" stroke-linecap="round" fill="#888888"><circle cx="413.80" cy="291.60" r="0.97" stroke="none"/><line x1="413.80" y1="290.40" x2="413.80" y2="292.80"/><line x1="412.76" y1="291.00" x2="414.84" y2="292.20"/><line x1="412.76" y1="292.20" x2="414.84" y2="291.00"/></g>
<g stroke="#888888" stroke-width="0.55" stroke-linecap="round" fill="#888888"><circle cx="465.70" cy="291.80" r="0.97" stroke="none"/><line x1="465.70" y1="290.60" x2="465.70" y2="293.00"/><line x1="464.66" y1="291.20" x2="466.74" y2="292.40"/><line x1="464.66" y1="292.40" x2="466.74" y2="291.20"/></g>
<text transform="translate(330.80,278.50) scale(1.0,1.06)" font-size="14.4" font-weight="bold" fill="#000" stroke="#000" stroke-width="0.25">I</text>
<text transform="translate(345.30,329.40) rotate(-90)" font-size="8.2" font-weight="bold" text-anchor="middle" textLength="52.2" lengthAdjust="spacingAndGlyphs" fill="#000" stroke="#000" stroke-width="0.28">%CD127-Ki67+</text>
<text x="413.30" y="382.40" font-size="6.9" font-weight="bold" text-anchor="middle" textLength="48.6" lengthAdjust="spacingAndGlyphs" fill="#000" stroke="#000" stroke-width="0.25">Months on ART</text>
</g>
<g id="legend">
<line x1="471.5" y1="9.8" x2="488.3" y2="9.8" stroke="#000" stroke-width="2.6"/>
<circle cx="479.9" cy="9.8" r="5.05" fill="#000"/>
<text x="497.5" y="13.9" font-size="11.9" fill="#000" stroke="#000" stroke-width="0.15">HIV</text>
<line x1="471.5" y1="28.0" x2="481.9" y2="28.0" stroke="#878787" stroke-width="2.6"/>
<line x1="485.5" y1="28.0" x2="487.8" y2="28.0" stroke="#878787" stroke-width="2.6"/>
<text x="497.5" y="32.2" font-size="11.9" fill="#000" stroke="#000" stroke-width="0.15">HC</text>
</g>
</g>
</svg>
</body></html>
